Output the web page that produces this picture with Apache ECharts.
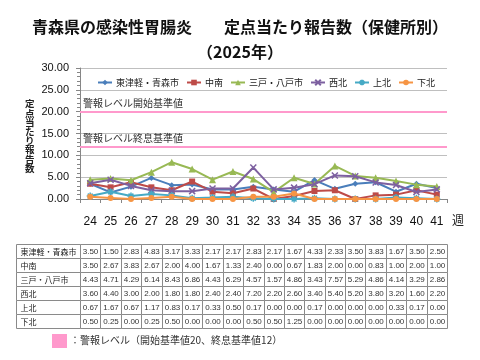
<!DOCTYPE html>
<html><head><meta charset="utf-8">
<script src="https://cdn.jsdelivr.net/npm/echarts@6/dist/echarts.min.js"></script>
<style>html,body{margin:0;padding:0;background:#fff}#c{width:480px;height:360px}</style>
</head><body><div id="c"></div>
<script>
const weeks = ['24','25','26','27','28','29','30','31','32','33','34','35','36','37','38','39','40','41'];
const regions = ['東津軽・青森市','中南','三戸・八戸市','西北','上北','下北'];
const higashitsugaru = [3.50,1.50,2.83,4.83,3.17,3.33,2.17,2.17,2.83,2.17,1.67,4.33,2.33,3.50,3.83,1.67,3.50,2.50];
const chunan = [3.50,2.67,3.83,2.67,2.00,4.00,1.67,1.33,2.40,0.00,0.67,1.83,2.00,0.00,0.83,1.00,2.00,1.00];
const sannohe = [4.43,4.71,4.29,6.14,8.43,6.86,4.43,6.29,4.57,1.57,4.86,3.43,7.57,5.29,4.86,4.14,3.29,2.86];
const seihoku = [3.60,4.40,3.00,2.00,1.80,1.80,2.40,2.40,7.20,2.20,2.60,3.40,5.40,5.20,3.80,3.20,1.60,2.20];
const kamikita = [0.67,1.67,0.67,1.17,0.83,0.17,0.33,0.50,0.17,0.00,0.00,0.17,0.00,0.00,0.00,0.33,0.17,0.00];
const shimokita = [0.50,0.25,0.00,0.25,0.50,0.00,0.00,0.00,0.50,0.50,1.25,0.00,0.00,0.00,0.00,0.00,0.00,0.00];
const seriesValues = [higashitsugaru, chunan, sannohe, seihoku, kamikita, shimokita];
const yTicks = [0,5,10,15,20,25,30];
const alertLevels = [20, 12];
const alertLabels = ['警報レベル開始基準値','警報レベル終息基準値'];
const titleText = '青森県の感染性胃腸炎　　定点当たり報告数（保健所別）\n（2025年）';
const yName = '定点当たり報告数';
const noteText = '：警報レベル（開始基準値20、終息基準値12）';

const colors = ['#4A7EBB','#BE4B48','#98B954','#7D60A0','#46AAC5','#F69544'];
const symbols = ['diamond','rect','triangle',
  'path://M0,0L10,10M10,0L0,10',
  'path://M5,0L5,10M0,5L10,5M1.5,1.5L8.5,8.5M8.5,1.5L1.5,8.5',
  'circle'];
const symSizes = [6,6,7,6,7,6];
const FONT = '"Noto Sans CJK JP", "Noto Sans", sans-serif';
const NUMFONT = '"Liberation Sans", Arial, sans-serif';

const chart = echarts.init(document.getElementById('c'), null, {renderer:'canvas'});

const lineSeries = regions.map((r,i)=>{
  const s = {
    name:r, type:'line', xAxisIndex:0, yAxisIndex:0, data:seriesValues[i],
    symbol:symbols[i], symbolSize:symSizes[i], showAllSymbol:true,
    lineStyle:{color:colors[i], width:2},
    itemStyle:{color:colors[i], borderColor:colors[i], borderWidth:(i===3||i===4)?1.5:0},
    z:3+i, animation:false
  };
  if(i===0){
    s.markLine = {
      silent:true, symbol:['none','none'], animation:false,
      lineStyle:{color:'#FF99CC', width:2, type:'solid'},
      label:{show:true, position:'insideStartTop', fontFamily:FONT, fontSize:10, color:'#333', distance:[3,3],
        formatter:(p)=>alertLabels[alertLevels.indexOf(p.value)]},
      data: alertLevels.map(v=>({yAxis:v}))
    };
  }
  return s;
});

const cellData = [];
seriesValues.forEach((arr,r)=>arr.forEach((v,c)=>cellData.push([c,r,v])));
const nameData = regions.map((r,i)=>[0,i]);

function crisp(x){return Math.round(x)+0.5;}

const cellSeries = {
  type:'custom', xAxisIndex:1, yAxisIndex:1, data:cellData, animation:false, silent:true,
  renderItem:(params, api)=>{
    const c = api.coord([api.value(0), api.value(1)]);
    const s = api.size([1,1]);
    const x0 = crisp(c[0]-s[0]/2), x1 = crisp(c[0]+s[0]/2);
    const y0 = crisp(c[1]-s[1]/2), y1 = crisp(c[1]+s[1]/2);
    return {type:'group', children:[
      {type:'rect', shape:{x:x0,y:y0,width:x1-x0,height:y1-y0}, style:{fill:'#fff', stroke:'#8a8a8a', lineWidth:1}},
      {type:'text', style:{text:api.value(2).toFixed(2), x:(x0+x1)/2, y:(y0+y1)/2+0.5, align:'center', verticalAlign:'middle', font:'8px '+NUMFONT, fill:'#333'}}
    ]};
  }
};
const nameSeries = {
  type:'custom', xAxisIndex:1, yAxisIndex:1, data:nameData, animation:false, silent:true, clip:false,
  renderItem:(params, api)=>{
    const c = api.coord([0, api.value(1)]);
    const s = api.size([1,1]);
    const xr = crisp(c[0]-s[0]/2), xl = crisp(16);
    const y0 = crisp(c[1]-s[1]/2), y1 = crisp(c[1]+s[1]/2);
    return {type:'group', children:[
      {type:'rect', shape:{x:xl,y:y0,width:xr-xl,height:y1-y0}, style:{fill:'#fff', stroke:'#8a8a8a', lineWidth:1}},
      {type:'text', style:{text:regions[params.dataIndex], x:xl+4, y:(y0+y1)/2+0.5, align:'left', verticalAlign:'middle', font:'8px '+FONT, fill:'#222'}}
    ]};
  }
};

chart.setOption({
  backgroundColor:'#fff',
  animation:false,
  title:{text:titleText, left:'center', top:9,
    textStyle:{fontFamily:FONT, fontSize:16, fontWeight:'bold', color:'#111', lineHeight:25}},
  legend:{
    data:regions, top:73, left:92, width:380, orient:'horizontal',
    itemGap:7, itemWidth:14, itemHeight:7,
    textStyle:{fontFamily:FONT, fontSize:9, color:'#222', padding:[0,0,0,-1]}
  },
  grid:[
    {left:80, right:33, top:68, height:131},
    {left:80, right:33, top:244, height:84}
  ],
  xAxis:[
    {type:'category', gridIndex:0, data:weeks, boundaryGap:true,
      axisLine:{lineStyle:{color:'#868686'}},
      axisTick:{show:true, interval:0, length:4, lineStyle:{color:'#868686'}},
      axisLabel:{interval:0, margin:17, fontFamily:NUMFONT, fontSize:12, color:'#111'}},
    {type:'category', gridIndex:1, data:weeks, show:false}
  ],
  yAxis:[
    {type:'value', gridIndex:0, min:yTicks[0], max:yTicks[yTicks.length-1], interval:5,
      axisLine:{show:true, lineStyle:{color:'#868686'}},
      axisTick:{show:true, length:4, lineStyle:{color:'#868686'}},
      minorTick:{show:true, splitNumber:5, length:3, lineStyle:{color:'#868686'}},
      splitLine:{lineStyle:{color:'#BFBFBF', width:1}},
      axisLabel:{margin:11, fontFamily:NUMFONT, fontSize:11, color:'#111',
        formatter:(v)=>v.toFixed(2)}},
    {type:'category', gridIndex:1, data:regions, inverse:true, show:false}
  ],
  graphic:[
    {type:'text', left:25, top:99, style:{text:yName.split('').join('\n'), font:'bold 9.5px '+FONT, fill:'#222', lineHeight:9.2, align:'center'}},
    {type:'text', left:452, top:214, style:{text:'週', font:'12px '+FONT, fill:'#222'}},
    {type:'rect', left:52, top:334, shape:{width:15, height:14}, style:{fill:'#FF99CC'}},
    {type:'text', left:70, top:335, style:{text:noteText, font:'10px '+FONT, fill:'#333'}}
  ],
  series:[...lineSeries, cellSeries, nameSeries]
});
</script></body></html>
